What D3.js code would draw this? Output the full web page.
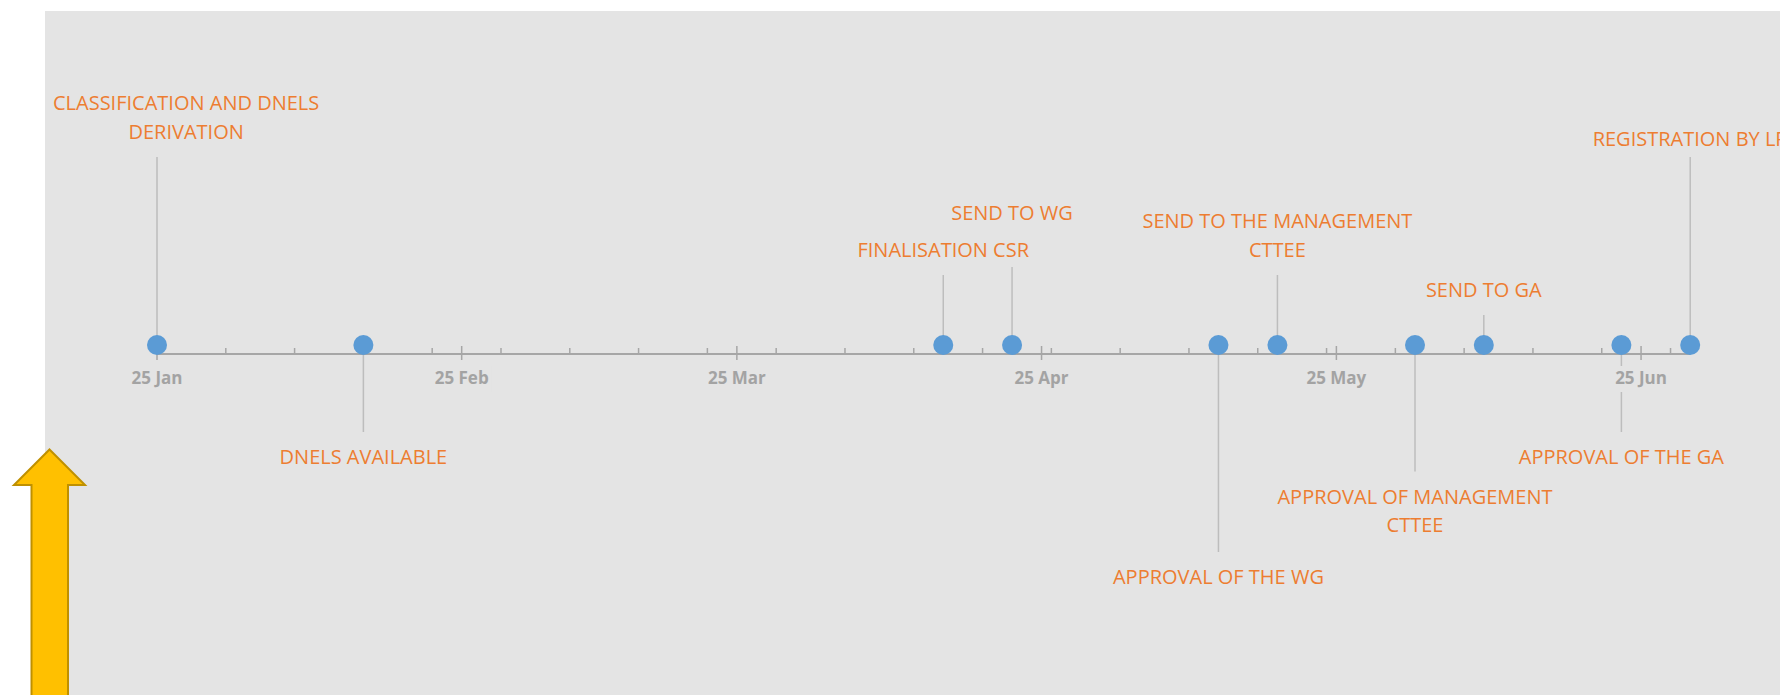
<!DOCTYPE html>
<html>
<head>
<meta charset="utf-8">
<script src="https://cdn.jsdelivr.net/npm/d3@7"></script>
<style>
  html, body { margin: 0; padding: 0; background: #ffffff; }
  svg { display: block; }
</style>
</head>
<body>
<svg id="chart" width="1780" height="695"></svg>
<script>
// ---- data ----
const milestoneDates = ["2015-01-25","2015-02-15","2015-04-15","2015-04-22","2015-05-13",
                        "2015-05-19","2015-06-02","2015-06-09","2015-06-23","2015-06-30"];
const milestoneLabels = [
  "CLASSIFICATION AND DNELS\nDERIVATION",
  "DNELS AVAILABLE",
  "FINALISATION CSR",
  "SEND TO WG\n",
  "APPROVAL OF THE WG",
  "SEND TO THE MANAGEMENT\nCTTEE",
  "APPROVAL OF MANAGEMENT\nCTTEE",
  "SEND TO GA",
  "APPROVAL OF THE GA",
  "REGISTRATION BY LR"
];
const milestoneHeights = [18.8, -8.7, 7.0, 7.8, -20.7, 7.0, -12.65, 3.0, -8.7, 18.8];
const majorTickDates = ["2015-01-25","2015-02-25","2015-03-25","2015-04-25","2015-05-25","2015-06-25"];
const majorTickLabels = ["25 Jan","25 Feb","25 Mar","25 Apr","25 May","25 Jun"];

// ---- setup ----
const parse = d3.timeParse("%Y-%m-%d");
const dates = milestoneDates.map(parse);
const W = 1780, H = 695;
const panel = {x: 45, y: 11};
const svg = d3.select("#chart");

const x = d3.scaleTime()
  .domain([dates[0], dates[dates.length - 1]])
  .range([157, 1690.2]);
const y = d3.scaleLinear().domain([-30, 30]).range([645, 45]); // 0 -> 345
const axisY = 354;
const dotY = y(0);

// panel background
svg.append("rect").attr("x", panel.x).attr("y", panel.y)
  .attr("width", W - panel.x).attr("height", H - panel.y).attr("fill", "#e4e4e4");

const data = dates.map((d, i) => ({date: d, label: milestoneLabels[i], h: milestoneHeights[i], i}));

// leader lines
svg.append("g").selectAll("line").data(data).join("line")
  .attr("x1", d => x(d.date)).attr("x2", d => x(d.date))
  .attr("y1", dotY).attr("y2", d => y(d.h))
  .attr("stroke", "#bdbdbd").attr("stroke-width", 1.5);

// axis line
svg.append("line")
  .attr("x1", x.range()[0]).attr("x2", x.range()[1])
  .attr("y1", axisY).attr("y2", axisY)
  .attr("stroke", "#a6a6a6").attr("stroke-width", 1.8);

// minor ticks (weekly)
const minor = d3.timeWeek.range(dates[0], d3.timeDay.offset(dates[dates.length - 1], 1));
svg.append("g").selectAll("line").data(minor).join("line")
  .attr("x1", d => x(d)).attr("x2", d => x(d))
  .attr("y1", axisY - 6).attr("y2", axisY)
  .attr("stroke", "#a6a6a6").attr("stroke-width", 1.5);

// major ticks
const majors = majorTickDates.map(parse);
svg.append("g").selectAll("line").data(majors).join("line")
  .attr("x1", d => x(d)).attr("x2", d => x(d))
  .attr("y1", axisY - 8).attr("y2", axisY + 6)
  .attr("stroke", "#a6a6a6").attr("stroke-width", 1.5);

// major tick labels with background
const tl = svg.append("g").selectAll("g").data(majors).join("g");
tl.append("text")
  .attr("x", d => x(d)).attr("y", 378).attr("dy", "0.35em")
  .attr("text-anchor", "middle")
  .attr("font-family", "'Open Sans', sans-serif").attr("font-weight", 700)
  .attr("font-size", 17).attr("fill", "#a3a3a3")
  .text((d, i) => majorTickLabels[i]);
tl.each(function() {
  const g = d3.select(this), t = g.select("text");
  const w = t.node().getComputedTextLength();
  g.insert("rect", "text")
    .attr("x", +t.attr("x") - w / 2 - 3).attr("y", 366)
    .attr("width", w + 6).attr("height", 26).attr("fill", "#e4e4e4");
});

// dots
svg.append("g").selectAll("circle").data(data).join("circle")
  .attr("cx", d => x(d.date)).attr("cy", dotY).attr("r", 10)
  .attr("fill", "#5b9bd5");

// labels
const lineH = 28.5;
const gapAbove = 25.5, gapBelow = 25;
const lastIdx = data.length - 1;
const lg = svg.append("g").selectAll("text").data(data).join("text")
  .attr("text-anchor", "middle")
  .attr("font-family", "'Open Sans', sans-serif")
  .attr("font-size", 20).attr("fill", "#ed7d31");
lg.each(function(d) {
  const t = d3.select(this);
  const lines = d.label.split("\n");
  const n = lines.length;
  const end = y(d.h);
  // the label at the right edge of the plot sits a little closer to its leader
  const ga = d.i === lastIdx ? gapAbove - 7 : gapAbove;
  lines.forEach((ln, i) => {
    const cy = d.h > 0 ? end - ga - (n - 1 - i) * lineH : end + gapBelow + i * lineH;
    t.append("tspan").attr("y", cy).attr("dy", "0.35em").text(ln);
  });
  let w = 0;
  t.selectAll("tspan").each(function() { w = Math.max(w, this.getComputedTextLength()); });
  const cx = Math.max(x(d.date), panel.x + 8 + w / 2);
  t.selectAll("tspan").attr("x", cx);
});

// yellow up arrow
const arrow = d3.path();
arrow.moveTo(49.5, 449.5);
arrow.lineTo(85, 485);
arrow.lineTo(68, 485);
arrow.lineTo(68, 700);
arrow.lineTo(31.5, 700);
arrow.lineTo(31.5, 485);
arrow.lineTo(14, 485);
arrow.closePath();
svg.append("path").attr("d", arrow.toString())
  .attr("fill", "#ffc000").attr("stroke", "#bf9000").attr("stroke-width", 2)
  .attr("stroke-linejoin", "miter");
</script>
</body>
</html>
